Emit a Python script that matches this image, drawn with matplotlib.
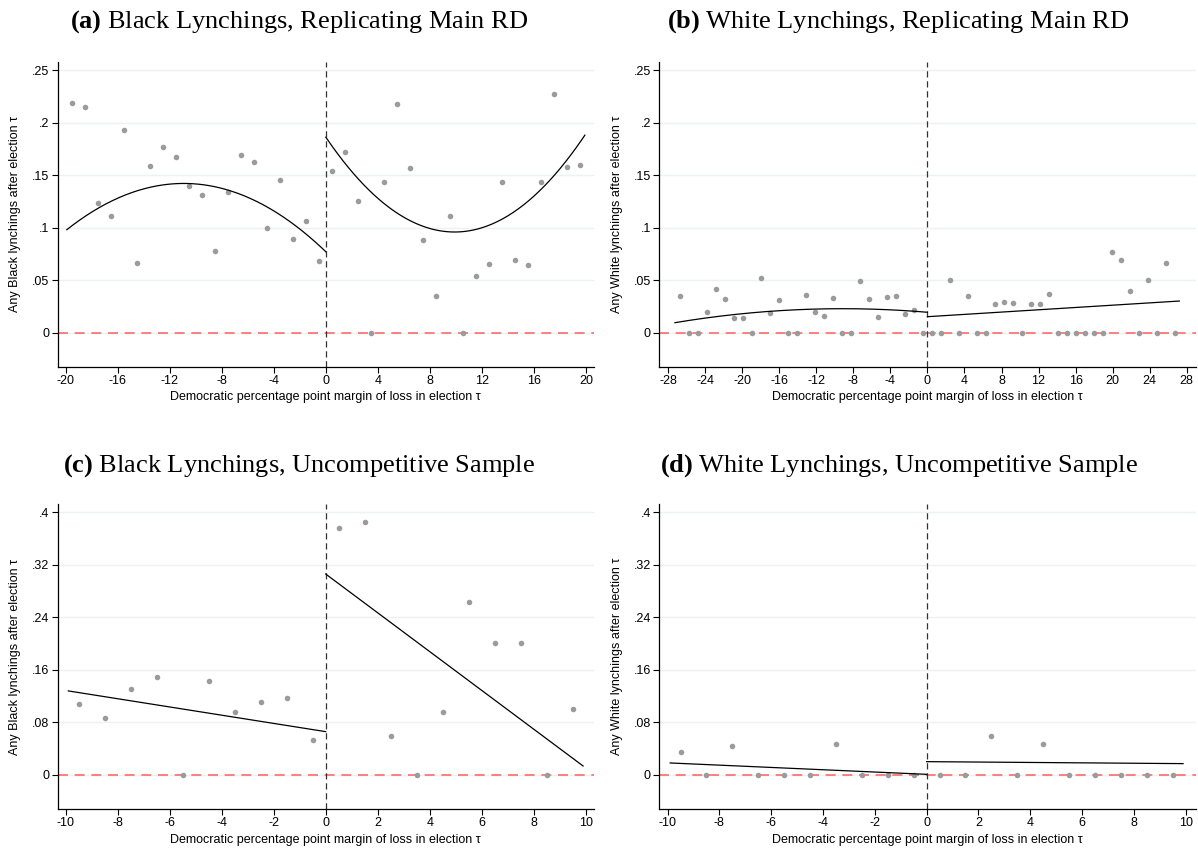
import numpy as np
import matplotlib
matplotlib.use("Agg")
import matplotlib.pyplot as plt

plt.rcParams['font.family'] = ['Liberation Sans', 'DejaVu Sans']
plt.rcParams['mathtext.fontset'] = 'custom'
plt.rcParams['mathtext.rm'] = 'Liberation Serif'
plt.rcParams['mathtext.bf'] = 'Liberation Serif:bold'

# ---- panel (a): Black lynchings, main RD ----
a_left_x = [-19.5, -18.5, -17.5, -16.5, -15.5, -14.5, -13.5, -12.5, -11.5, -10.5,
            -9.5, -8.5, -7.5, -6.5, -5.5, -4.5, -3.5, -2.5, -1.5, -0.5]
a_left_y = [0.219, 0.2145, 0.123, 0.111, 0.193, 0.0666, 0.159, 0.177, 0.167, 0.140,
            0.131, 0.078, 0.1336, 0.1694, 0.162, 0.100, 0.1453, 0.089, 0.1066, 0.068]
a_right_x = [0.5, 1.5, 2.5, 3.5, 4.5, 5.5, 6.5, 7.5, 8.5, 9.5,
             10.5, 11.5, 12.5, 13.5, 14.5, 15.5, 16.5, 17.5, 18.5, 19.5]
a_right_y = [0.154, 0.1716, 0.1253, 0.0, 0.1431, 0.2176, 0.1564, 0.0882, 0.0346, 0.1114,
             0.0, 0.0543, 0.0654, 0.1431, 0.0692, 0.0647, 0.1431, 0.2275, 0.158, 0.160]
# points
a_fit_left = ([-19.9, -11.1, 0.0], [0.098, 0.142, 0.077])
a_fit_right = ([0.0, 9.9, 19.9], [0.186, 0.0958, 0.188])

# ---- panel (b): White lynchings, main RD ----
b_left_x = [-26.72, -25.75, -24.78, -23.81, -22.84, -21.87, -20.90, -19.93, -18.95, -17.98,
            -17.01, -16.04, -15.07, -14.10, -13.13, -12.16, -11.19, -10.22, -9.25, -8.27,
            -7.30, -6.33, -5.36, -4.39, -3.42, -2.45, -1.48, -0.51]
b_left_y = [0.0346, 0, 0, 0.020, 0.0416, 0.0317, 0.014, 0.014, 0, 0.0517,
            0.0184, 0.0311, 0, 0, 0.0355, 0.020, 0.0155, 0.0333, 0, 0,
            0.0492, 0.032, 0.0149, 0.0336, 0.0346, 0.0178, 0.0216, 0]
b_right_x = [0.49, 1.46, 2.43, 3.40, 4.37, 5.34, 6.31, 7.28, 8.25, 9.22,
             10.19, 11.16, 12.14, 13.11, 14.08, 15.05, 16.02, 16.99, 17.96, 18.93,
             19.90, 20.87, 21.84, 22.81, 23.78, 24.75, 25.72, 26.69]
b_right_y = [0, 0, 0.0498, 0, 0.0349, 0, 0, 0.027, 0.0295, 0.0286,
             0, 0.027, 0.027, 0.0368, 0, 0, 0, 0, 0, 0,
             0.0768, 0.0688, 0.040, 0, 0.0498, 0, 0.0666, 0]
b_fit_left = ([-27.26, -8.74, 0.0], [0.0095, 0.0228, 0.0194])
b_fit_right = ([0.0, 27.2], [0.0152, 0.0301])

# ---- panel (c): Black lynchings, uncompetitive ----
c_left_x = [-9.5, -8.5, -7.5, -6.5, -5.5, -4.5, -3.5, -2.5, -1.5, -0.5]
c_left_y = [0.1076, 0.0873, 0.1305, 0.1487, 0, 0.1431, 0.0954, 0.1112, 0.1178, 0.0528]
c_right_x = [0.5, 1.5, 2.5, 3.5, 4.5, 5.5, 6.5, 7.5, 8.5, 9.5]
c_right_y = [0.3756, 0.3848, 0.0589, 0, 0.0954, 0.2635, 0.2005, 0.2005, 0, 0.100]
c_fit_left = ([-9.9, 0.0], [0.128, 0.066])
c_fit_right = ([0.0, 9.9], [0.306, 0.0137])

# ---- panel (d): White lynchings, uncompetitive ----
d_left_x = c_left_x
d_left_y = [0.0355, 0, 0.0437, 0, 0, 0, 0.0477, 0, 0, 0]
d_right_x = c_right_x
d_right_y = [0, 0, 0.0589, 0, 0.0477, 0, 0, 0, 0, 0]
d_fit_left = ([-9.9, 0.0], [0.0183, 0.001])
d_fit_right = ([0.0, 9.9], [0.0203, 0.0173])

ticks_top = [0, 0.05, 0.1, 0.15, 0.2, 0.25]
ticklabels_top = ['0', '.05', '.1', '.15', '.2', '.25']
ticks_bot = [0, 0.08, 0.16, 0.24, 0.32, 0.4]
ticklabels_bot = ['0', '.08', '.16', '.24', '.32', '.4']

titles = [r'$\mathbf{(a)}$ Black Lynchings, Replicating Main RD',
          r'$\mathbf{(b)}$ White Lynchings, Replicating Main RD',
          r'$\mathbf{(c)}$ Black Lynchings, Uncompetitive Sample',
          r'$\mathbf{(d)}$ White Lynchings, Uncompetitive Sample']

W, H = 1198, 848
fig = plt.figure(figsize=(W / 100, H / 100), dpi=100)


def make_panel(rect, xlim, ylim, xticks, yticks, yticklabels, ylabel,
               lx, ly, rx, ry, fit_l, fit_r, deg):
    ax = fig.add_axes(rect)
    ax.set_xlim(*xlim)
    ax.set_ylim(*ylim)
    for s in ['top', 'right']:
        ax.spines[s].set_visible(False)
    for s in ['left', 'bottom']:
        ax.spines[s].set_linewidth(0.9)
    ax.set_yticks(yticks)
    ax.set_yticklabels(yticklabels)
    ax.set_xticks(xticks)
    ax.set_xticklabels([str(t) for t in xticks])
    ax.tick_params(labelsize=9, length=4, width=0.8, pad=2)
    ax.grid(axis='y', color='#eaf2f3', lw=1.0)
    ax.set_axisbelow(True)
    ax.axhline(0, color='#ff6b6b', lw=1.2, ls=(0, (6, 4)), zorder=2)
    ax.axvline(0, color='#333333', lw=0.9, ls=(0, (5, 3)), zorder=2)
    ax.scatter(lx, ly, s=16, color='#9b9b9b', lw=0, zorder=3)
    ax.scatter(rx, ry, s=16, color='#9b9b9b', lw=0, zorder=3)
    for fx, fy in (fit_l, fit_r):
        d = min(deg, len(fx) - 1)
        coef = np.polyfit(fx, fy, d)
        xs = np.linspace(fx[0], fx[-1], 200)
        ax.plot(xs, np.polyval(coef, xs), color='black', lw=0.9, zorder=4)
    ax.set_ylabel(ylabel, fontsize=9)
    ax.yaxis.set_label_coords(-0.068, 0.5)
    ax.set_xlabel('Democratic percentage point margin of loss in election τ', fontsize=9, labelpad=3)
    return ax


top_b = (H - 366.7) / H
top_h = (366.7 - 61.7) / H
bot_b = (H - 809) / H
bot_h = (809 - 504.3) / H

make_panel([57.7 / W, top_b, (594 - 57.7) / W, top_h], (-20.6, 20.6), (-0.0324, 0.2579),
           list(range(-20, 21, 4)), ticks_top, ticklabels_top,
           'Any Black lynchings after election τ',
           a_left_x, a_left_y, a_right_x, a_right_y, a_fit_left, a_fit_right, 2)
make_panel([659.3 / W, top_b, (1196 - 659.3) / W, top_h], (-28.95, 29.0), (-0.0324, 0.2579),
           list(range(-28, 29, 4)), ticks_top, ticklabels_top,
           'Any White lynchings after election τ',
           b_left_x, b_left_y, b_right_x, b_right_y, b_fit_left, b_fit_right, 2)
make_panel([57.7 / W, bot_b, (594 - 57.7) / W, bot_h], (-10.31, 10.32), (-0.0518, 0.4122),
           list(range(-10, 11, 2)), ticks_bot, ticklabels_bot,
           'Any Black lynchings after election τ',
           c_left_x, c_left_y, c_right_x, c_right_y, c_fit_left, c_fit_right, 1)
make_panel([659.3 / W, bot_b, (1196 - 659.3) / W, bot_h], (-10.32, 10.4), (-0.0518, 0.4122),
           list(range(-10, 11, 2)), ticks_bot, ticklabels_bot,
           'Any White lynchings after election τ',
           d_left_x, d_left_y, d_right_x, d_right_y, d_fit_left, d_fit_right, 1)

for (x, y), t in zip([(0.25, 1 - 22 / H), (0.75, 1 - 22 / H),
                      (0.25, 1 - 466 / H), (0.75, 1 - 466 / H)], titles):
    fig.text(x, y, t, ha='center', va='center', fontsize=19, family='Liberation Serif')

fig.savefig('out.png', dpi=100)
